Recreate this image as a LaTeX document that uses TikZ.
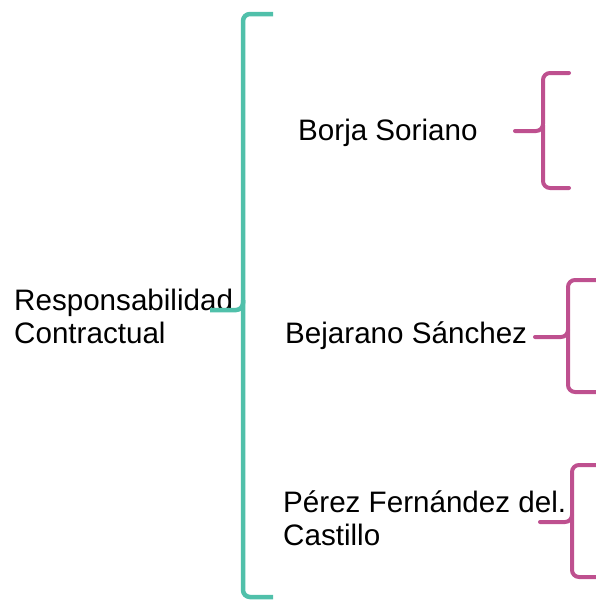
\documentclass[tikz,border=0pt]{standalone}
\usepackage{fontspec}
\setmainfont{Liberation Sans}
\usepackage{tikz}
\definecolor{bracegreen}{RGB}{80,192,170}
\definecolor{bracepink}{RGB}{190,80,143}
\tikzset{
    label/.style={anchor=base west, inner sep=0pt, align=left,
        font=\fontsize{29.6}{33}\selectfont},
    bigbrace/.style={draw=bracegreen, line width=4.5pt, rounded corners=7pt},
    smallbrace/.style={draw=bracepink, line width=4pt, rounded corners=7pt, line cap=round}
}

\begin{document}
\begin{tikzpicture}[x=1pt,y=-1pt]
        \useasboundingbox (0,0) rectangle (596,600);
        % Labels (base of a two-line label is its last line)
        \node[label] (resp) at (14,343) {Responsabilidad\\Contractual};
        \node[label] (borja) at (298,140) {Borja Soriano};
        \node[label] (bejarano) at (285,343) {Bejarano Sánchez};
        \node[label] (perez) at (283,545) {Pérez Fernández del.\\Castillo};
        % Big brace
        \draw[bigbrace] (273,14) -- (243,14) -- (243,310) -- (210,310);
        \draw[bigbrace] (243,300) -- (243,597) -- (273,597);
        % Small braces
        \draw[smallbrace] (569,73) -- (543,73) -- (543,131) -- (515,131);
        \draw[smallbrace] (543,125) -- (543,188) -- (569,188);
        \draw[smallbrace] (600,280) -- (568,280) -- (568,337) -- (535,337);
        \draw[smallbrace] (568,330) -- (568,392) -- (600,392);
        \draw[smallbrace] (600,465) -- (572,465) -- (572,522) -- (540,522);
        \draw[smallbrace] (572,515) -- (572,577) -- (600,577);
    \end{tikzpicture}
\end{document}
